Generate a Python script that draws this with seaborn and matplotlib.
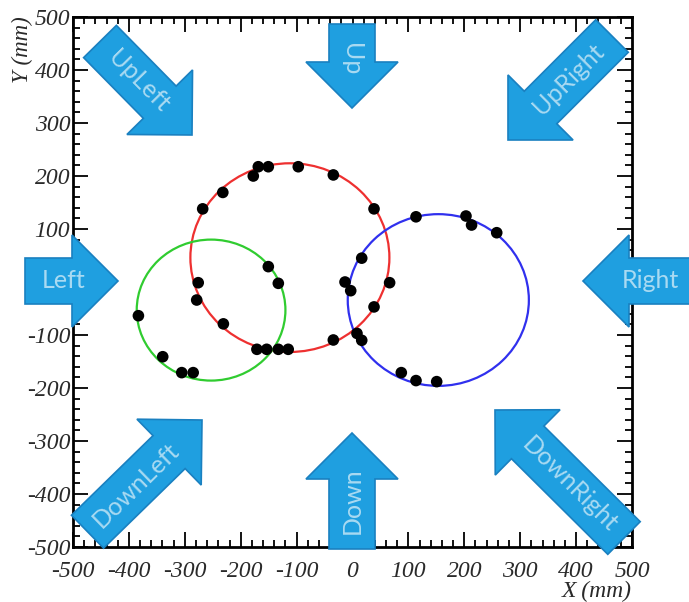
import numpy as np
import pandas as pd
import seaborn as sns
import matplotlib
matplotlib.use("Agg")
import matplotlib.pyplot as plt
from matplotlib.patches import Circle, Polygon
from matplotlib.ticker import MultipleLocator

# Measured hit positions (mm)
hit_x = [-168.5, -150.6, -177.5, -97.0, -34.3, -232.0, -268.0, 38.5, 113.6, 203.0,
         213.0, 258.0, 16.5, -150.6, -132.7, -276.0, -278.7, -13.4, -3.2, 66.4,
         38.5, -383.0, -231.0, -171.0, -153.5, -132.7, -115.0, -34.3, 8.0, 16.5,
         -339.5, -305.5, -285.0, 87.3, 113.6, 150.6]
hit_y = [217.5, 217.5, 200.0, 217.5, 202.0, 169.0, 138.0, 138.0, 123.0, 124.5,
         107.5, 93.0, 45.0, 29.0, -2.5, -1.3, -34.0, 0.0, -16.4, -1.3,
         -47.0, -63.6, -79.0, -127.0, -127.0, -127.0, -127.0, -109.4, -97.0, -110.0,
         -141.0, -171.0, -171.0, -171.0, -186.0, -188.0]

# Fitted circles: centre x, centre y, radius (mm)
circle_cx = [-112.0, -253.0, 153.5]
circle_cy = [46.0, -53.0, -34.0]
circle_r = [178.0, 133.0, 162.0]
circle_colors = ["#ee3030", "#30cc30", "#3030ee"]

# Direction arrows around the frame
arrow_labels = ["UpLeft", "Up", "UpRight", "Left", "Right", "DownLeft", "Down", "DownRight"]

W, H = 689, 602
sns.set_theme(style="white")
plt.rcParams["font.family"] = ["Liberation Serif", "DejaVu Serif"]
plt.rcParams["axes.unicode_minus"] = False

fig = plt.figure(figsize=(W / 100, H / 100), dpi=100)
ax = fig.add_axes([73 / W, 1 - 547 / H, (632 - 73) / W, (547 - 17) / H])

df = pd.DataFrame({"x": hit_x, "y": hit_y})
sns.scatterplot(data=df, x="x", y="y", color="black", s=70, edgecolor="none",
                ax=ax, zorder=4)

for cx, cy, r, c in zip(circle_cx, circle_cy, circle_r, circle_colors):
    ax.add_patch(Circle((cx, cy), r, fill=False, edgecolor=c, linewidth=1.6, zorder=3))

ax.set_xlim(-500, 500)
ax.set_ylim(-500, 500)
ax.set_xlabel("")
ax.set_ylabel("")
ax.xaxis.set_major_locator(MultipleLocator(100))
ax.yaxis.set_major_locator(MultipleLocator(100))
ax.xaxis.set_minor_locator(MultipleLocator(20))
ax.yaxis.set_minor_locator(MultipleLocator(20))
ax.tick_params(which="both", direction="in", top=True, right=True,
               bottom=True, left=True, color="black", width=1.3)
ax.tick_params(which="major", length=11)
ax.tick_params(which="minor", length=5)
ax.tick_params(axis="x", which="major", pad=10)
ax.tick_params(axis="y", which="major", pad=2)
for lab in ax.get_xticklabels() + ax.get_yticklabels():
    lab.set_fontstyle("italic")
    lab.set_fontsize(17)
    lab.set_color("#2a2a2a")
for s in ax.spines.values():
    s.set_color("black")
    s.set_linewidth(2)

fig.text(632 / W, 1 - 591 / H, "X (mm)", ha="right", va="center",
         fontsize=17, fontstyle="italic", color="#2a2a2a")
fig.text(22 / W, 1 - 16 / H, "Y (mm)", ha="center", va="top", rotation=90,
         fontsize=16.5, fontstyle="italic", color="#2a2a2a")

# Arrow geometry in figure pixels (y downward): tail centre, tip
arrow_tail = [(100, 41.5), (352, 24), (612, 36), (25, 281), (700, 281),
              (87.5, 531.7), (352, 549), (624, 538)]
arrow_tip = [(192, 135), (352, 108), (508, 140), (118, 281), (583, 281),
             (202, 420), (352, 433), (495, 410)]
BODY_W, HEAD_W, HEAD_L = 46, 92, 46


def to_fig(p):
    return (p[0] / W, 1 - p[1] / H)


for label, tail, tip in zip(arrow_labels, arrow_tail, arrow_tip):
    t = np.array(tail, float)
    p = np.array(tip, float)
    d = (p - t) / np.linalg.norm(p - t)
    n = np.array([-d[1], d[0]])
    b = p - HEAD_L * d
    pts = [t + n * BODY_W / 2, b + n * BODY_W / 2, b + n * HEAD_W / 2, p,
           b - n * HEAD_W / 2, b - n * BODY_W / 2, t - n * BODY_W / 2]
    poly = Polygon([to_fig(q) for q in pts], closed=True, transform=fig.transFigure,
                   facecolor="#1f9fe0", edgecolor="#1a80c0", linewidth=1.2,
                   zorder=10)
    fig.add_artist(poly)
    ang = np.degrees(np.arctan2(-d[1], d[0]))
    if ang > 90:
        ang -= 180
    elif ang < -90:
        ang += 180
    c = t + 0.42 * (p - t)
    fig.text(*to_fig(c), label, ha="center", va="center", rotation=ang,
             rotation_mode="anchor", fontsize=18, family=["Lato", "DejaVu Sans"],
             color="#a9daf2", zorder=11)

fig.savefig("out.png", dpi=100)
